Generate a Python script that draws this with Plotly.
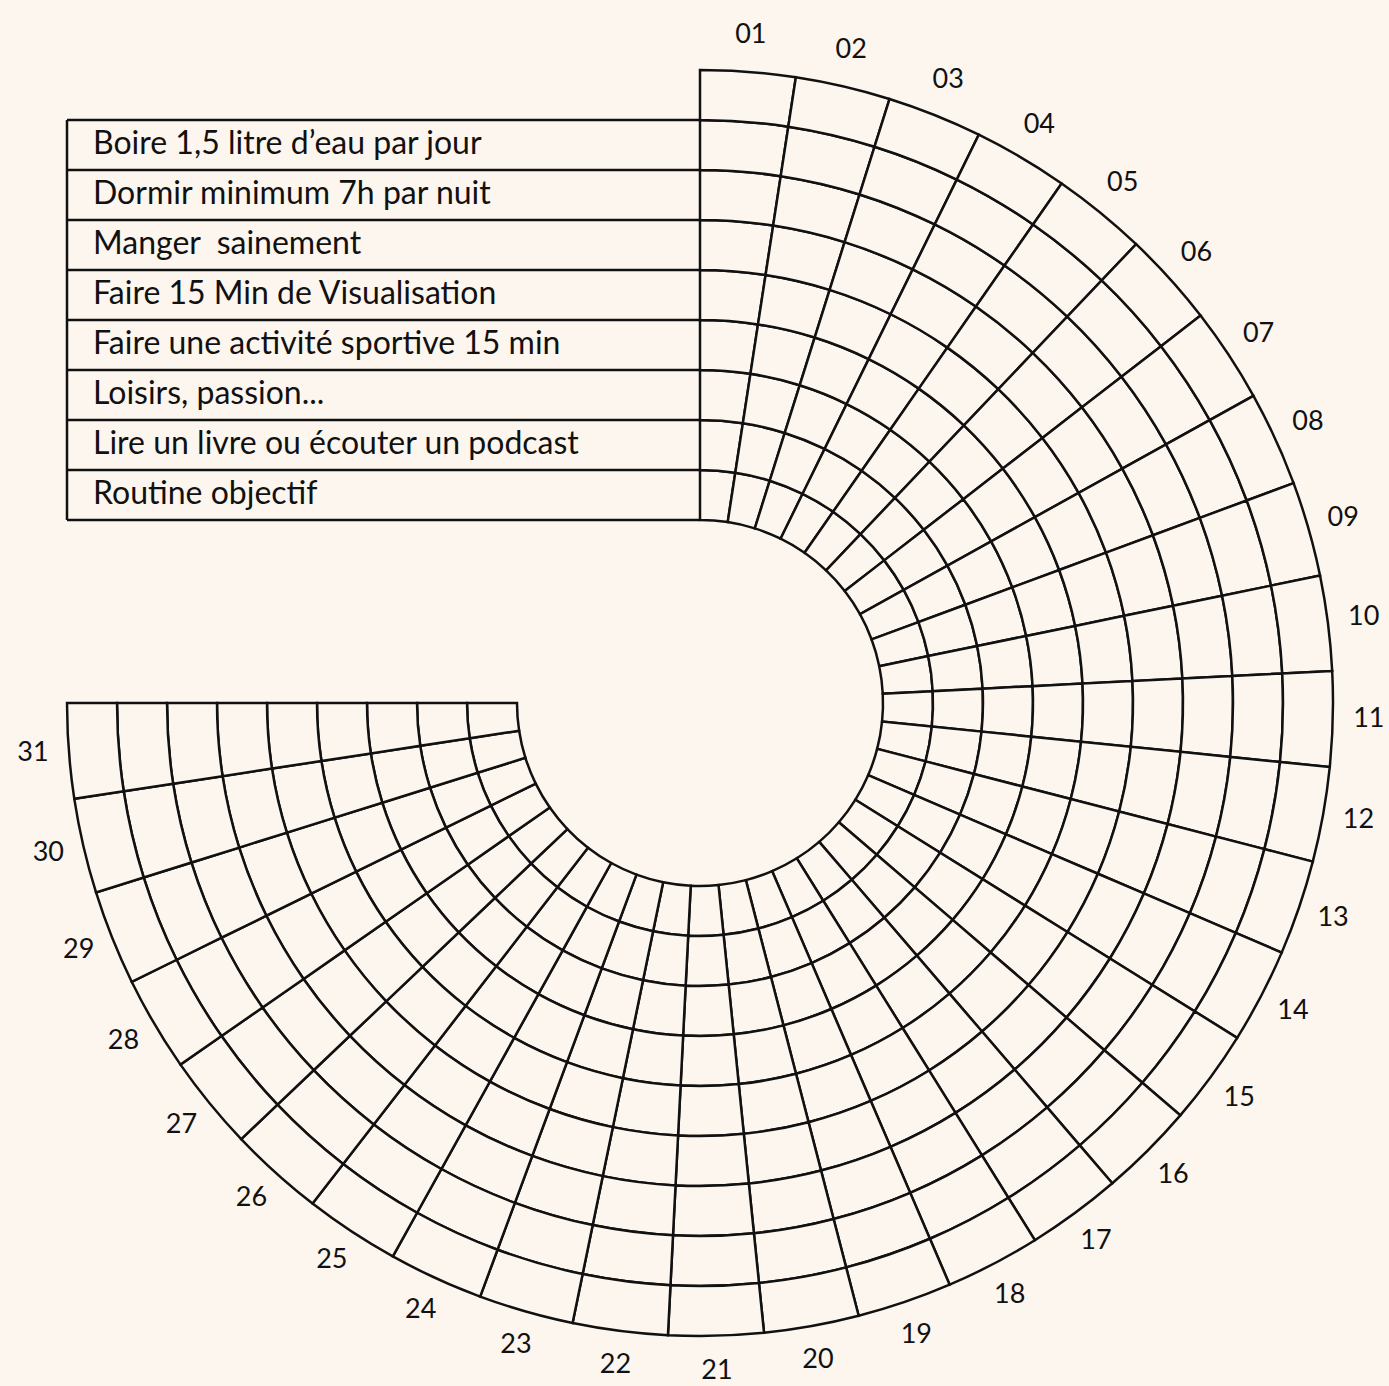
import plotly.graph_objects as go

# ---- data ----
days = [f"{d:02d}" for d in range(1, 32)]
habits = [
    "Boire 1,5 litre d\u2019eau par jour",
    "Dormir minimum 7h par nuit",
    "Manger  sainement",
    "Faire 15 Min de Visualisation",
    "Faire une activité sportive 15 min",
    "Loisirs, passion...",
    "Lire un livre ou écouter un podcast",
    "Routine objectif",
]
n_rings = 9          # 8 habit rings + 1 free outer ring
span_deg = 270       # days cover three quarters of the circle

# ---- geometry / style ----
W, H = 1389, 1386
cx, cy = 700, 703          # centre in px
hole_px, ring_px = 183, 50
r_min, r_max = -0.1, 10     # radial range (a little slack inside, room for labels outside)
R_px = hole_px + ring_px * r_max
label_r = 9.72
bg = "#FDF6EF"
ink = "#111111"
font_family = "Lato, 'Noto Sans', sans-serif"
line_w = 2.5

n_days = len(days)
dw = span_deg / n_days
centers = [(i + 0.5) * dw for i in range(n_days)]

theta, base, rr = [], [], []
for k in range(n_rings):
    for c in centers:
        theta.append(c)
        base.append(k)
        rr.append(1)

fig = go.Figure()
fig.add_trace(go.Barpolar(
    theta=theta, r=rr, base=base, width=dw,
    marker=dict(color=bg, line=dict(color=ink, width=line_w)),
    hoverinfo="skip", showlegend=False,
))
fig.add_trace(go.Scatterpolar(
    theta=centers, r=[label_r] * n_days, text=days, mode="text",
    textfont=dict(family=font_family, size=27, color=ink),
    hoverinfo="skip", showlegend=False,
))

# domain in paper coordinates
dx0 = (cx - R_px) / W
dx1 = (cx + R_px) / W
dy0 = 1 - (cy + R_px) / H
dy1 = 1 - (cy - R_px) / H

fig.update_layout(
    polar=dict(
        domain=dict(x=[dx0, dx1], y=[max(dy0, 0), dy1]),
        hole=(hole_px + r_min * ring_px) / R_px,
        bgcolor="rgba(0,0,0,0)",
        radialaxis=dict(range=[r_min, r_max], visible=False, showgrid=False, showline=False),
        angularaxis=dict(rotation=90, direction="clockwise", visible=False,
                         showgrid=False, showline=False, thetaunit="degrees"),
        bargap=0,
    ),
)

# cartesian overlay in "ring units", centred on the polar centre
h = hole_px / ring_px
ext = h + r_max
fig.update_layout(
    xaxis=dict(domain=[dx0, dx1], range=[-ext, ext], visible=False, fixedrange=True),
    yaxis=dict(domain=[max(dy0, 0), dy1], range=[-ext, ext], visible=False, fixedrange=True),
)

n_h = len(habits)
left = -(h + n_rings)
xs, ys = [], []
for k in range(n_h + 1):
    xs += [left, 0, None]
    ys += [h + k, h + k, None]
xs += [left, left, None]
ys += [h, h + n_h, None]
fig.add_trace(go.Scatter(x=xs, y=ys, mode="lines",
                         line=dict(color=ink, width=line_w),
                         hoverinfo="skip", showlegend=False, cliponaxis=False))

fig.add_trace(go.Scatter(
    x=[left + 0.52] * n_h,
    y=[h + (n_h - 1 - i) + 0.48 for i in range(n_h)],
    text=habits, mode="text", textposition="middle right",
    textfont=dict(family=font_family, size=32, color=ink),
    hoverinfo="skip", showlegend=False, cliponaxis=False,
))

fig.update_layout(
    width=W, height=H,
    margin=dict(l=0, r=0, t=0, b=0),
    paper_bgcolor=bg, plot_bgcolor="rgba(0,0,0,0)",
    showlegend=False,
)

fig.write_html(
    "out.html",
    config={"displayModeBar": False, "staticPlot": True},
    post_script="document.body.style.margin='0';document.body.style.background='%s';" % bg,
)
